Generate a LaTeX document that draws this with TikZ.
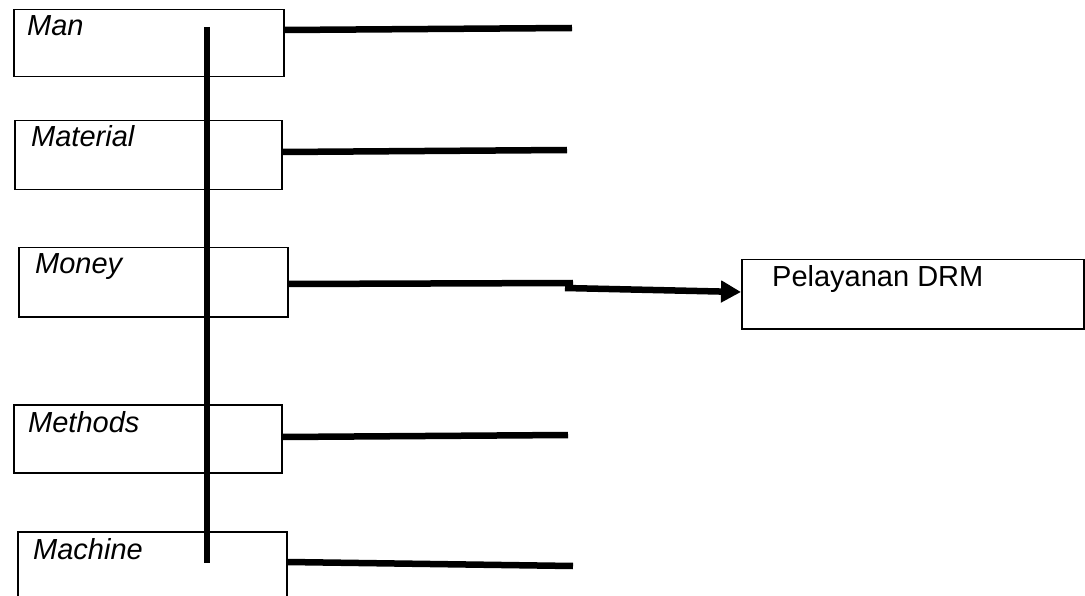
\documentclass[tikz,border=0pt]{standalone}
\usepackage{fontspec}
\setmainfont{Liberation Sans}
\usetikzlibrary{calc,arrows.meta}
\tikzset{
  box/.style={draw, line width=1.5pt, anchor=north west, inner sep=0pt},
  lbl/.style={anchor=base west, inner sep=0pt, font=\fontsize{29}{33}\selectfont\itshape},
  lblup/.style={anchor=base west, inner sep=0pt, font=\fontsize{29}{33}\selectfont},
  bar/.style={line width=6.5pt, line cap=butt},
  spine/.style={line width=6pt, line cap=butt},
  arr/.style={line width=6.5pt, -{Triangle[length=20pt,width=21pt]}}
}
\begin{document}
\begin{tikzpicture}[x=1pt,y=-1pt]
\useasboundingbox (0,0) rectangle (1085,596);
\clip (0,0) rectangle (1085,596);
% boxes
\node[box, minimum width=270pt, minimum height=67pt] (man) at (13,9) {};
\node[box, minimum width=267pt, minimum height=69pt] (material) at (14,120) {};
\node[box, minimum width=269pt, minimum height=69pt] (money) at (18,247) {};
\node[box, minimum width=268pt, minimum height=68pt] (methods) at (13,404) {};
\node[box, minimum width=269pt, minimum height=75pt] (machine) at (17,531) {};
\node[box, minimum width=342pt, minimum height=69pt] (drm) at (741,259) {};
% labels
\node[lbl] (tman) at (27,36) {Man};
\node[lbl] (tmaterial) at (31,147) {Material};
\node[lbl] (tmoney) at (35,274) {Money};
\node[lbl] (tmethods) at (28,432) {Methods};
\node[lbl] (tmachine) at (33,559) {Machine};
\node[lblup] (tdrm) at (772,287) {Pelayanan DRM};
% spine
\coordinate (sTop) at (207,27);
\coordinate (sBot) at (207,563);
\draw[spine] (sTop) -- (sBot);
% branch ends
\coordinate (manR) at (572,28);
\coordinate (materialR) at (567,150);
\coordinate (moneyR) at (573,283);
\coordinate (methodsR) at (568,435);
\coordinate (machineR) at (573,566);
\coordinate (arrS) at (565,288);
\draw[bar] ($(man.north east)+(0,21)$) -- (manR);
\draw[bar] ($(material.north east)+(0,32)$) -- (materialR);
\draw[bar] ($(money.north east)+(0,37)$) -- (moneyR);
\draw[bar] ($(methods.north east)+(0,33)$) -- (methodsR);
\draw[bar] ($(machine.north east)+(0,31)$) -- (machineR);
\draw[arr] (arrS) -- ($(drm.north west)+(0,33)$);
\end{tikzpicture}
\end{document}
